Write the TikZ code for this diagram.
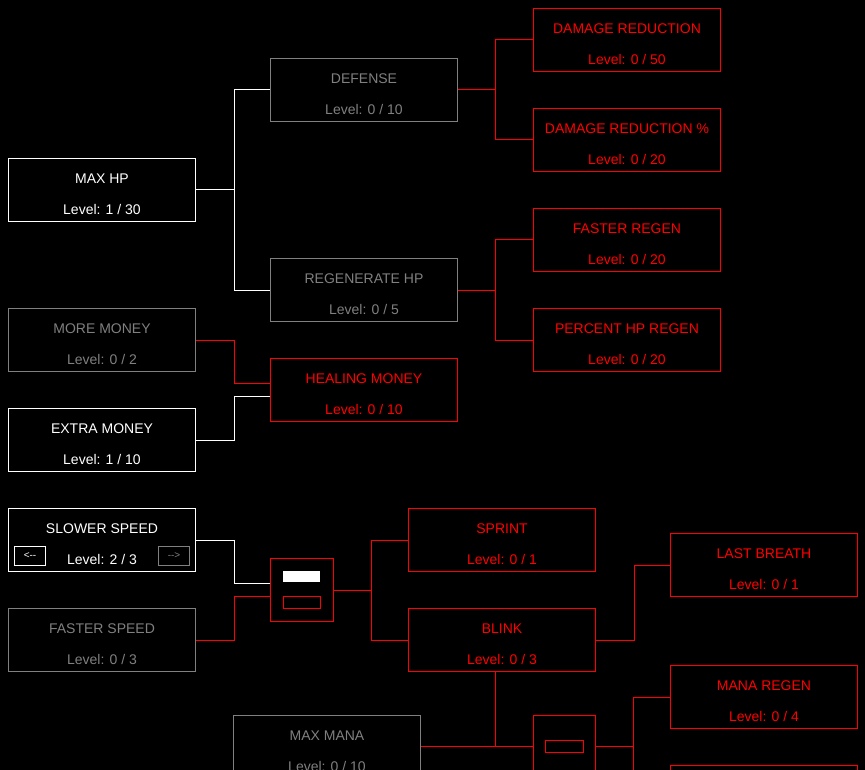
\documentclass[tikz,border=0pt]{standalone}
\usepackage{fontspec}
\setmainfont{Liberation Sans}
\definecolor{gr}{HTML}{808080}
\definecolor{rd}{HTML}{FF0000}
\begin{document}
\begin{tikzpicture}[x=1pt,y=-1pt,line width=1pt,
  box/.style={draw,rectangle,minimum width=187pt,minimum height=63pt,inner sep=0pt,anchor=north west},
  txt/.style={inner sep=0pt,font=\fontsize{14}{16}\selectfont},
  lnk/.style={line width=1pt}]
\fill[black] (0,0) rectangle (865,770);
\clip (0,0) rectangle (865,770);
\newcommand\skill[6]{%
  \node[box,draw=#4] (#1) at (#2,#3) {};
  \node[txt,text=#4] (#1t) at ([yshift=-20.5pt]#1.north) {#5};
  \node[txt,text=#4] (#1l) at ([yshift=-51.5pt]#1.north) {#6};}
\skill{maxhp}{8}{158}{white}{MAX HP}{Level: 1 / 30}
\skill{def}{270}{58}{gr}{DEFENSE}{Level: 0 / 10}
\skill{dr}{533}{8}{rd}{DAMAGE REDUCTION}{Level: 0 / 50}
\skill{drp}{533}{108}{rd}{DAMAGE REDUCTION \%}{Level: 0 / 20}
\skill{fr}{533}{208}{rd}{FASTER REGEN}{Level: 0 / 20}
\skill{phr}{533}{308}{rd}{PERCENT HP REGEN}{Level: 0 / 20}
\skill{reg}{270}{258}{gr}{REGENERATE HP}{Level: 0 / 5}
\skill{mm}{8}{308}{gr}{MORE MONEY}{Level: 0 / 2}
\skill{hm}{270}{358}{rd}{HEALING MONEY}{Level: 0 / 10}
\skill{em}{8}{408}{white}{EXTRA MONEY}{Level: 1 / 10}
\skill{ss}{8}{508}{white}{SLOWER SPEED}{Level: 2 / 3}
\skill{fs}{8}{608}{gr}{FASTER SPEED}{Level: 0 / 3}
\skill{sp}{408}{508}{rd}{SPRINT}{Level: 0 / 1}
\skill{bl}{408}{608}{rd}{BLINK}{Level: 0 / 3}
\skill{lb}{670}{533}{rd}{LAST BREATH}{Level: 0 / 1}
\skill{mr}{670}{665}{rd}{MANA REGEN}{Level: 0 / 4}
\skill{mana}{233}{715}{gr}{MAX MANA}{Level: 0 / 10}
\node[box,draw=rd] (bot) at (670,765) {};
% buttons
\node[draw=white,minimum width=31pt,minimum height=19pt,inner sep=0pt,anchor=north west,text=white,font=\fontsize{10}{12}\selectfont] (bl1) at (14,546) {<{-}{-}};
\node[draw=gr,minimum width=31pt,minimum height=19pt,inner sep=0pt,anchor=north west,text=gr,font=\fontsize{10}{12}\selectfont] (br1) at (158,546) {{-}{-}>};
% small boxes
\node[draw=rd,minimum width=63pt,minimum height=63pt,inner sep=0pt,anchor=north west] (g1) at (270,558) {};
\fill[white] (283,571) rectangle (320,582);
\node[draw=rd,minimum width=37pt,minimum height=12pt,inner sep=0pt,anchor=north west] (g1b) at (283,596) {};
\node[draw=rd,minimum width=62pt,minimum height=63pt,inner sep=0pt,anchor=north west] (g2) at (533,715) {};
\node[draw=rd,minimum width=38pt,minimum height=12pt,inner sep=0pt,anchor=north west] (g2b) at (545,740) {};
% connectors
\draw[white] (maxhp.east) -- ++(38,0) |- (def.west);
\draw[white] (maxhp.east) -- ++(38,0) |- (reg.west);
\draw[rd] (def.east) -- ++(37,0) |- (dr.west);
\draw[rd] (def.east) -- ++(37,0) |- (drp.west);
\draw[rd] (reg.east) -- ++(37,0) |- (fr.west);
\draw[rd] (reg.east) -- ++(37,0) |- (phr.west);
\draw[rd] (mm.east) -- ++(38,0) |- ([yshift=6.5pt]hm.west);
\draw[white] (em.east) -- ++(38,0) |- ([yshift=-6.5pt]hm.west);
\draw[white] (ss.east) -- ++(38,0) |- ([yshift=6.5pt]g1.west);
\draw[rd] (fs.east) -- ++(38,0) |- ([yshift=-6.5pt]g1.west);
\draw[rd] (g1.east) -- ++(37,0) |- (sp.west);
\draw[rd] (g1.east) -- ++(37,0) |- (bl.west);
\draw[rd] (bl.east) -- ++(38,0) |- (lb.west);
\coordinate (bj) at (495,746);
\draw[rd] (bj |- bl.south) -- (bj);
\draw[rd] (mana.east |- bj) -- (g2.west |- bj);
\draw[rd] (g2.east |- bj) -- (633,746) |- (mr.west);
\draw[rd] (633,746) -- (633,796) -- (670,796);
\end{tikzpicture}
\end{document}
